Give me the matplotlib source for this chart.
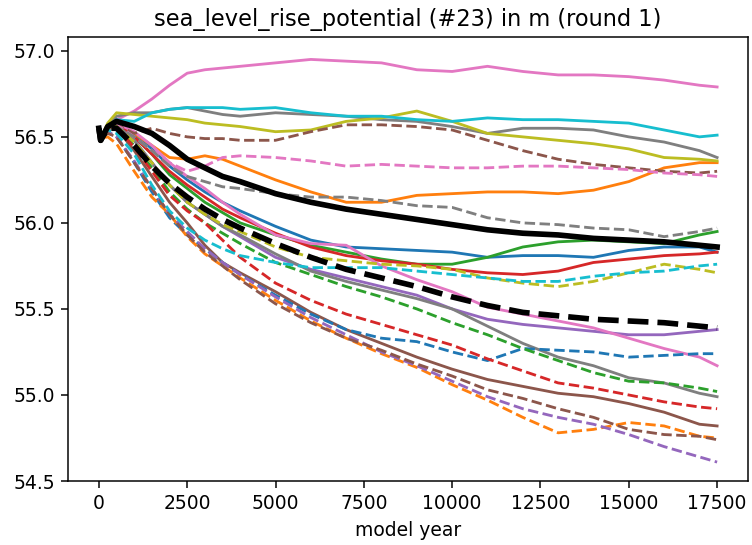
import matplotlib
matplotlib.use('agg')
import matplotlib.pyplot as plt

years = [0, 50, 250, 500, 1000, 1500, 2000, 2500, 3000, 3500, 4000, 5000, 6000,
         7000, 8000, 9000, 10000, 11000, 12000, 13000, 14000, 15000, 16000, 17000, 17500]

# solid runs
pink_top = [56.55, 56.49, 56.56, 56.6, 56.65, 56.72, 56.8, 56.87, 56.89, 56.9, 56.91, 56.93, 56.95,
            56.94, 56.93, 56.89, 56.88, 56.91, 56.88, 56.86, 56.86, 56.85, 56.83, 56.8, 56.79]
cyan = [56.55, 56.49, 56.55, 56.6, 56.59, 56.64, 56.66, 56.67, 56.67, 56.67, 56.66, 56.67, 56.64,
        56.62, 56.62, 56.6, 56.59, 56.61, 56.6, 56.6, 56.59, 56.58, 56.54, 56.5, 56.51]
gray_top = [56.55, 56.49, 56.57, 56.62, 56.64, 56.64, 56.66, 56.67, 56.65, 56.63, 56.62, 56.64, 56.63,
            56.62, 56.6, 56.59, 56.56, 56.52, 56.55, 56.55, 56.54, 56.5, 56.47, 56.42, 56.38]
olive = [56.55, 56.49, 56.58, 56.64, 56.63, 56.62, 56.61, 56.6, 56.58, 56.57, 56.56, 56.53, 56.54,
         56.59, 56.61, 56.65, 56.59, 56.52, 56.5, 56.48, 56.46, 56.43, 56.38, 56.37, 56.36]
orange = [56.55, 56.49, 56.56, 56.58, 56.52, 56.45, 56.38, 56.37, 56.39, 56.37, 56.33, 56.25, 56.18,
          56.12, 56.12, 56.16, 56.17, 56.18, 56.18, 56.17, 56.19, 56.24, 56.32, 56.35, 56.35]
green = [56.55, 56.49, 56.56, 56.58, 56.5, 56.4, 56.28, 56.2, 56.12, 56.06, 56.0, 55.93, 55.87,
         55.83, 55.79, 55.76, 55.76, 55.8, 55.86, 55.89, 55.9, 55.89, 55.88, 55.93, 55.95]
blue = [56.55, 56.49, 56.56, 56.58, 56.52, 56.43, 56.33, 56.25, 56.18, 56.12, 56.07, 55.98, 55.9,
        55.86, 55.85, 55.84, 55.83, 55.8, 55.81, 55.81, 55.8, 55.84, 55.86, 55.86, 55.83]
red = [56.55, 56.49, 56.56, 56.58, 56.5, 56.4, 56.3, 56.22, 56.15, 56.08, 56.03, 55.94, 55.86,
       55.81, 55.78, 55.76, 55.73, 55.71, 55.7, 55.72, 55.77, 55.79, 55.81, 55.82, 55.83]
purple = [56.55, 56.49, 56.55, 56.56, 56.48, 56.35, 56.22, 56.12, 56.05, 55.98, 55.92, 55.8, 55.73,
          55.68, 55.63, 55.58, 55.5, 55.44, 55.41, 55.39, 55.37, 55.35, 55.35, 55.37, 55.38]
pink_low = [56.55, 56.49, 56.56, 56.58, 56.53, 56.45, 56.35, 56.27, 56.2, 56.12, 56.05, 55.93, 55.88,
            55.87, 55.75, 55.67, 55.6, 55.51, 55.47, 55.43, 55.39, 55.33, 55.27, 55.22, 55.17]
gray_low = [56.55, 56.49, 56.56, 56.57, 56.48, 56.35, 56.22, 56.12, 56.05, 55.98, 55.93, 55.82, 55.72,
            55.66, 55.61, 55.56, 55.5, 55.4, 55.3, 55.22, 55.17, 55.1, 55.07, 55.01, 54.99]
brown = [56.55, 56.49, 56.55, 56.55, 56.42, 56.27, 56.12, 56.0, 55.87, 55.77, 55.71, 55.6, 55.48,
         55.38, 55.3, 55.22, 55.15, 55.09, 55.05, 55.01, 54.99, 54.95, 54.9, 54.83, 54.82]

# dashed runs
brown_d_hi = [56.55, 56.49, 56.55, 56.57, 56.52, 56.55, 56.52, 56.5, 56.49, 56.49, 56.48, 56.48, 56.53,
              56.57, 56.57, 56.56, 56.54, 56.48, 56.42, 56.37, 56.34, 56.32, 56.3, 56.29, 56.3]
pink_d = [56.55, 56.49, 56.55, 56.57, 56.5, 56.42, 56.35, 56.3, 56.33, 56.38, 56.39, 56.38, 56.36,
          56.33, 56.34, 56.33, 56.32, 56.32, 56.33, 56.33, 56.32, 56.31, 56.29, 56.28, 56.27]
gray_d = [56.55, 56.49, 56.56, 56.56, 56.5, 56.42, 56.33, 56.27, 56.24, 56.21, 56.2, 56.17, 56.15,
          56.15, 56.13, 56.1, 56.09, 56.03, 56.0, 55.99, 55.97, 55.96, 55.92, 55.95, 55.97]
cyan_d = [56.55, 56.49, 56.54, 56.52, 56.4, 56.22, 56.07, 55.97, 55.9, 55.85, 55.81, 55.77, 55.74,
          55.74, 55.74, 55.72, 55.7, 55.68, 55.66, 55.66, 55.69, 55.71, 55.72, 55.75, 55.76]
olive_d = [56.55, 56.49, 56.55, 56.56, 56.47, 56.35, 56.22, 56.12, 56.05, 55.99, 55.95, 55.86, 55.8,
           55.78, 55.76, 55.75, 55.73, 55.68, 55.65, 55.63, 55.66, 55.71, 55.76, 55.73, 55.71]
blue_d = [56.55, 56.49, 56.53, 56.5, 56.35, 56.18, 56.03, 55.93, 55.85, 55.77, 55.7, 55.58, 55.47,
          55.38, 55.33, 55.31, 55.25, 55.2, 55.27, 55.26, 55.25, 55.22, 55.23, 55.24, 55.24]
green_d = [56.55, 56.49, 56.55, 56.55, 56.45, 56.32, 56.18, 56.08, 56.0, 55.94, 55.88, 55.77, 55.7,
           55.63, 55.57, 55.5, 55.42, 55.35, 55.27, 55.2, 55.13, 55.08, 55.07, 55.04, 55.02]
red_d = [56.55, 56.49, 56.55, 56.55, 56.44, 56.3, 56.16, 56.07, 56.0, 55.9, 55.8, 55.65, 55.55,
         55.47, 55.41, 55.35, 55.29, 55.21, 55.14, 55.07, 55.04, 55.0, 54.96, 54.93, 54.92]
brown_d_low = [56.55, 56.49, 56.52, 56.5, 56.35, 56.2, 56.05, 55.93, 55.83, 55.75, 55.67, 55.53, 55.42,
               55.33, 55.26, 55.18, 55.11, 55.03, 54.98, 54.92, 54.87, 54.8, 54.77, 54.76, 54.74]
orange_d = [56.55, 56.49, 56.5, 56.46, 56.3, 56.15, 56.05, 55.92, 55.82, 55.75, 55.68, 55.55, 55.43,
            55.33, 55.24, 55.16, 55.06, 54.97, 54.87, 54.78, 54.8, 54.84, 54.82, 54.76, 54.75]
purple_d = [56.55, 56.49, 56.53, 56.5, 56.36, 56.2, 56.05, 55.95, 55.85, 55.77, 55.7, 55.57, 55.45,
            55.35, 55.25, 55.17, 55.08, 54.99, 54.92, 54.87, 54.83, 54.77, 54.7, 54.64, 54.61]

# ensemble means
mean_solid = [56.55, 56.48, 56.56, 56.59, 56.56, 56.52, 56.45, 56.37, 56.32, 56.27, 56.24, 56.17, 56.12,
              56.08, 56.05, 56.02, 55.99, 55.96, 55.94, 55.93, 55.91, 55.9, 55.89, 55.87, 55.86]
mean_dashed = [56.55, 56.48, 56.55, 56.55, 56.45, 56.33, 56.23, 56.15, 56.08, 56.02, 55.97, 55.88, 55.8,
               55.73, 55.68, 55.63, 55.57, 55.52, 55.48, 55.46, 55.44, 55.43, 55.42, 55.4, 55.39]

solid_runs = [(blue, 'tab:blue'), (orange, 'tab:orange'), (green, 'tab:green'), (red, 'tab:red'),
              (purple, 'tab:purple'), (brown, 'tab:brown'), (pink_top, 'tab:pink'), (pink_low, 'tab:pink'),
              (gray_top, 'tab:gray'), (gray_low, 'tab:gray'), (olive, 'tab:olive'), (cyan, 'tab:cyan')]
dashed_runs = [(blue_d, 'tab:blue'), (orange_d, 'tab:orange'), (green_d, 'tab:green'), (red_d, 'tab:red'),
               (purple_d, 'tab:purple'), (brown_d_hi, 'tab:brown'), (brown_d_low, 'tab:brown'),
               (pink_d, 'tab:pink'), (gray_d, 'tab:gray'), (olive_d, 'tab:olive'), (cyan_d, 'tab:cyan')]

fig = plt.figure(figsize=(752 / 135, 545 / 135), dpi=135)
ax = fig.add_axes([0.0904, 0.1174, 0.9043, 0.8146])

for vals, col in solid_runs:
    ax.plot(years, vals, color=col, lw=1.5)
for vals, col in dashed_runs:
    ax.plot(years, vals, color=col, lw=1.5, ls='--')

ax.plot(years, mean_solid, color='black', lw=3)
ax.plot(years, mean_dashed, color='black', lw=3, ls='--')

ax.set_xticks([0, 2500, 5000, 7500, 10000, 12500, 15000, 17500])
ax.set_yticks([54.5, 55.0, 55.5, 56.0, 56.5, 57.0])
ax.set_ylim(54.5, 57.08)
ax.set_xlabel('model year')
ax.set_title('sea_level_rise_potential (#23) in m (round 1)')

fig.savefig('out.png', dpi=135)
plt.close()
